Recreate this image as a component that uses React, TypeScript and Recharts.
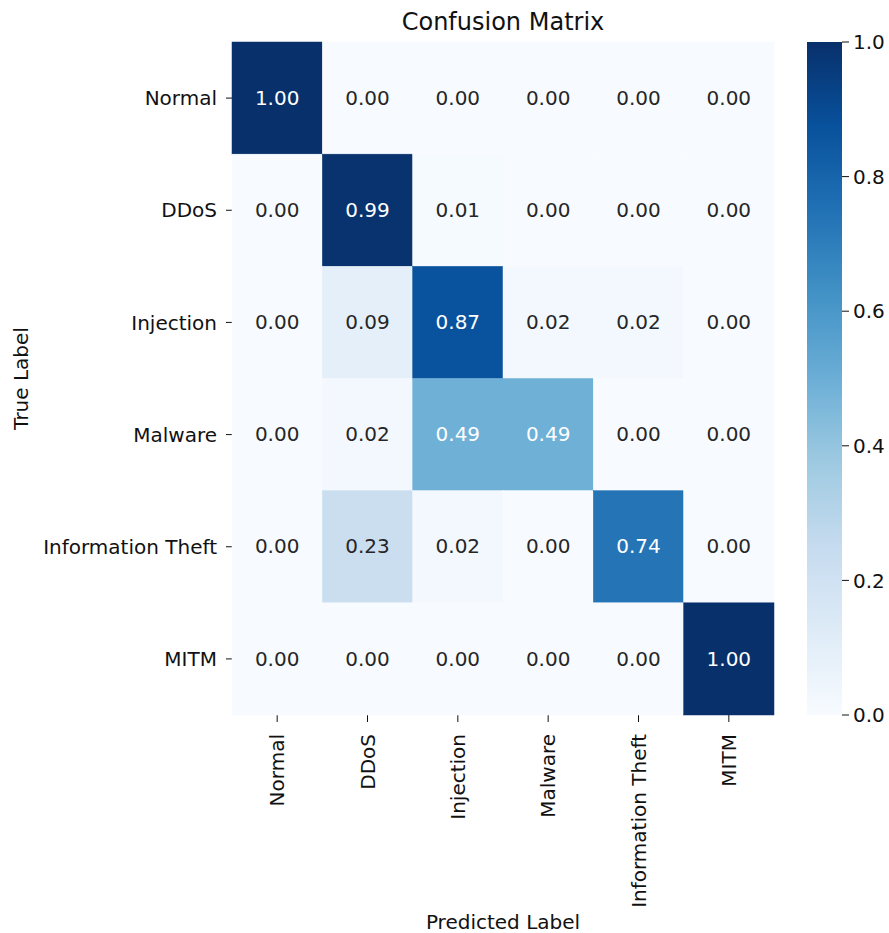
import { ScatterChart, Scatter, XAxis, YAxis, BarChart, Bar } from 'recharts';

// class names, used for both axes
const classes = ['Normal', 'DDoS', 'Injection', 'Malware', 'Information Theft', 'MITM'];

// rows = true label, columns = predicted label (normalized)
const normalRow = [1.0, 0.0, 0.0, 0.0, 0.0, 0.0];
const ddosRow = [0.0, 0.99, 0.01, 0.0, 0.0, 0.0];
const injectionRow = [0.0, 0.09, 0.87, 0.02, 0.02, 0.0];
const malwareRow = [0.0, 0.02, 0.49, 0.49, 0.0, 0.0];
const theftRow = [0.0, 0.23, 0.02, 0.0, 0.74, 0.0];
const mitmRow = [0.0, 0.0, 0.0, 0.0, 0.0, 1.0];

const colorbarTicks = [0, 0.2, 0.4, 0.6, 0.8, 1.0];
const colorbarRange = [{ v: 1 }];

const rows = [normalRow, ddosRow, injectionRow, malwareRow, theftRow, mitmRow];
const cells = rows.flatMap((row, r) => row.map((v, c) => ({ x: c + 0.5, y: r + 0.5, v })));
const centerTicks = classes.map((_, i) => i + 0.5);

const FONT = '"DejaVu Sans", sans-serif';
const PLOT_LEFT = 232;
const PLOT_RIGHT = 774;
const PLOT_TOP = 42;
const PLOT_BOTTOM = 715;
const CELL_W = (PLOT_RIGHT - PLOT_LEFT) / classes.length;
const CELL_H = (PLOT_BOTTOM - PLOT_TOP) / classes.length;

// matplotlib "Blues"
const BLUES = [
    [247, 251, 255], [222, 235, 247], [198, 219, 239], [158, 202, 225], [107, 174, 214],
    [66, 146, 198], [33, 113, 181], [8, 81, 156], [8, 48, 107],
];

function blues(t: number): number[] {
    const p = Math.max(0, Math.min(1, t)) * (BLUES.length - 1);
    const i = Math.min(Math.floor(p), BLUES.length - 2);
    const f = p - i;
    return BLUES[i].map((c, k) => Math.round(c + (BLUES[i + 1][k] - c) * f));
}

const rgb = (c: number[]) => `rgb(${c[0]},${c[1]},${c[2]})`;

function textColor(c: number[]) {
    const lin = c.map((v) => {
        const s = v / 255;
        return s <= 0.03928 ? s / 12.92 : Math.pow((s + 0.055) / 1.055, 2.4);
    });
    const lum = 0.2126 * lin[0] + 0.7152 * lin[1] + 0.0722 * lin[2];
    return lum > 0.408 ? '#262626' : '#ffffff';
}

const HeatCell = (props: any) => {
    const { cx, cy, payload } = props;
    const c = blues(payload.v);
    return (
        <g>
            <rect x={cx - CELL_W / 2} y={cy - CELL_H / 2} width={CELL_W} height={CELL_H} fill={rgb(c)} stroke={rgb(c)} strokeWidth={0.5} />
            <text x={cx} y={cy} dy="0.33em" textAnchor="middle" fontSize={20} fontFamily={FONT} fill={textColor(c)}>
                {payload.v.toFixed(2)}
            </text>
        </g>
    );
};

const RotatedTick = (props: any) => {
    const { x, y, payload } = props;
    return (
        <g transform={`translate(${x},${y})`}>
            <text transform="rotate(-90)" textAnchor="end" dy="0.35em" fontSize={20} fontFamily={FONT} fill="#111">
                {classes[Math.floor(payload.value)]}
            </text>
        </g>
    );
};

export default function App() {
    return (
        <div style={{ position: 'absolute', left: 0, top: 0, width: 889, height: 933, background: '#fff', fontFamily: FONT }}>
            <div style={{ position: 'absolute', left: 303, top: 10, width: 400, textAlign: 'center', fontSize: 24, lineHeight: '24px', color: '#111' }}>
                Confusion Matrix
            </div>
            <div style={{ position: 'absolute', left: 0, top: 0 }}>
                <ScatterChart width={889} height={933} margin={{ top: PLOT_TOP, right: 889 - PLOT_RIGHT, bottom: 0, left: 0 }} style={{ fontFamily: FONT }}>
                    <XAxis
                        type="number"
                        dataKey="x"
                        domain={[0, classes.length]}
                        ticks={centerTicks}
                        interval={0}
                        height={933 - PLOT_BOTTOM}
                        axisLine={false}
                        stroke="#111"
                        tickSize={7}
                        tickMargin={12}
                        tick={<RotatedTick />}
                        label={{ value: 'Predicted Label', position: 'insideBottom', offset: 4, fill: '#111', fontSize: 20 }}
                    />
                    <YAxis
                        type="number"
                        dataKey="y"
                        domain={[0, classes.length]}
                        reversed
                        ticks={centerTicks}
                        interval={0}
                        width={PLOT_LEFT}
                        axisLine={false}
                        stroke="#111"
                        tickSize={6}
                        tickMargin={9}
                        tick={{ fill: '#111', fontSize: 20 }}
                        tickFormatter={(v: number) => classes[Math.floor(v)]}
                        label={{ value: 'True Label', angle: -90, position: 'insideLeft', offset: 21, fill: '#111', fontSize: 20, style: { textAnchor: 'middle' } }}
                    />
                    <Scatter data={cells} shape={HeatCell} isAnimationActive={false} />
                </ScatterChart>
            </div>
            <div style={{ position: 'absolute', left: 800, top: 0 }}>
                <BarChart width={89} height={933} data={colorbarRange} margin={{ top: PLOT_TOP, bottom: 933 - PLOT_BOTTOM, left: 7, right: 0 }} barCategoryGap={0} style={{ fontFamily: FONT }}>
                    <defs>
                        <linearGradient id="bluesGrad" x1="0" y1="1" x2="0" y2="0">
                            {BLUES.map((c, i) => (
                                <stop key={i} offset={`${(i / (BLUES.length - 1)) * 100}%`} stopColor={rgb(c)} />
                            ))}
                        </linearGradient>
                    </defs>
                    <XAxis hide />
                    <YAxis
                        orientation="right"
                        width={47}
                        domain={[0, 1]}
                        ticks={colorbarTicks}
                        interval={0}
                        axisLine={false}
                        stroke="#111"
                        tickSize={7}
                        tickMargin={4}
                        tick={{ fill: '#111', fontSize: 20, textAnchor: 'start' }}
                        tickFormatter={(v: number) => v.toFixed(1)}
                    />
                    <Bar dataKey="v" fill="url(#bluesGrad)" isAnimationActive={false} />
                </BarChart>
            </div>
        </div>
    );
}
